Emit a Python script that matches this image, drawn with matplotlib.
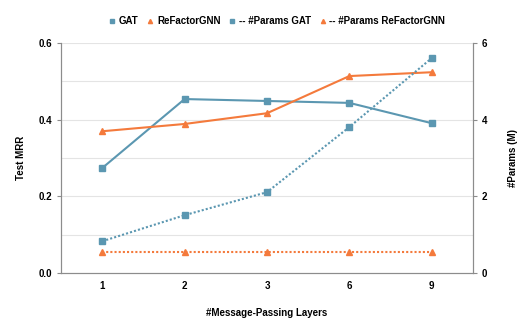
import matplotlib.pyplot as plt
import numpy as np

plt.rcParams['font.family'] = ['Liberation Sans', 'DejaVu Sans']
plt.rcParams['font.weight'] = 'bold'

layers = ['1', '2', '3', '6', '9']
gat_mrr = [0.274, 0.454, 0.449, 0.444, 0.391]
refactor_mrr = [0.370, 0.389, 0.417, 0.514, 0.524]
gat_params = [0.83, 1.51, 2.11, 3.81, 5.61]
refactor_params = [0.55, 0.55, 0.55, 0.55, 0.55]

blue = '#5b97b1'
orange = '#f47a3c'

fig = plt.figure(figsize=(5.32, 3.29), dpi=100)
ax = fig.add_axes([0.1147, 0.170, 0.7743, 0.699])
ax2 = ax.twinx()

x = np.arange(len(layers))
ax.plot(x, gat_mrr, color=blue, lw=1.5, marker='s', ms=3.8, label='GAT', zorder=3)
ax.plot(x, refactor_mrr, color=orange, lw=1.5, marker='^', ms=3.8, label='ReFactorGNN', zorder=3)
ax2.plot(x, gat_params, color=blue, lw=1.5, ls=(0, (1, 1)), marker='s', ms=3.8,
         label='-- #Params GAT')
ax2.plot(x, refactor_params, color=orange, lw=1.5, ls=(0, (1, 1)), marker='^', ms=3.8,
         label='-- #Params ReFactorGNN')

ax.set_xlim(-0.5, len(layers) - 0.5)
ax.set_ylim(0, 0.6)
ax2.set_ylim(0, 6)
ax.set_xticks(x)
ax.set_xticklabels(layers)
ax.set_yticks([0, 0.2, 0.4, 0.6])
ax.set_yticklabels(['0.0', '0.2', '0.4', '0.6'])
ax2.set_yticks([0, 2, 4, 6])
for v in np.arange(0.1, 0.61, 0.1):
    ax.axhline(v, color='#e4e4e4', lw=0.8, zorder=0)

for a in (ax, ax2):
    a.spines['top'].set_visible(False)
    for s in ('left', 'right', 'bottom'):
        a.spines[s].set_color('#8c8c8c')
    a.tick_params(labelsize=7, colors='#8c8c8c', labelcolor='black', length=3)
ax.tick_params(axis='x', length=0, pad=6)

ax.set_xlabel('#Message-Passing Layers', fontsize=7, fontweight='bold', labelpad=12)
ax.set_ylabel('Test MRR', fontsize=7, fontweight='bold', labelpad=9)
ax2.set_ylabel('#Params (M)', fontsize=7, fontweight='bold', labelpad=15)

handles = []
for c, m, lab in [(blue, 's', 'GAT'), (orange, '^', 'ReFactorGNN'),
                  (blue, 's', '-- #Params GAT'), (orange, '^', '-- #Params ReFactorGNN')]:
    handles.append(plt.Line2D([], [], color=c, marker=m, ls='none', ms=3, label=lab))
fig.legend(handles=handles, loc='center', bbox_to_anchor=(0.52, 0.935), ncol=4,
           frameon=False, fontsize=7, handlelength=0.8, handletextpad=0.3,
           columnspacing=0.8)

fig.savefig('out.png', dpi=100)
